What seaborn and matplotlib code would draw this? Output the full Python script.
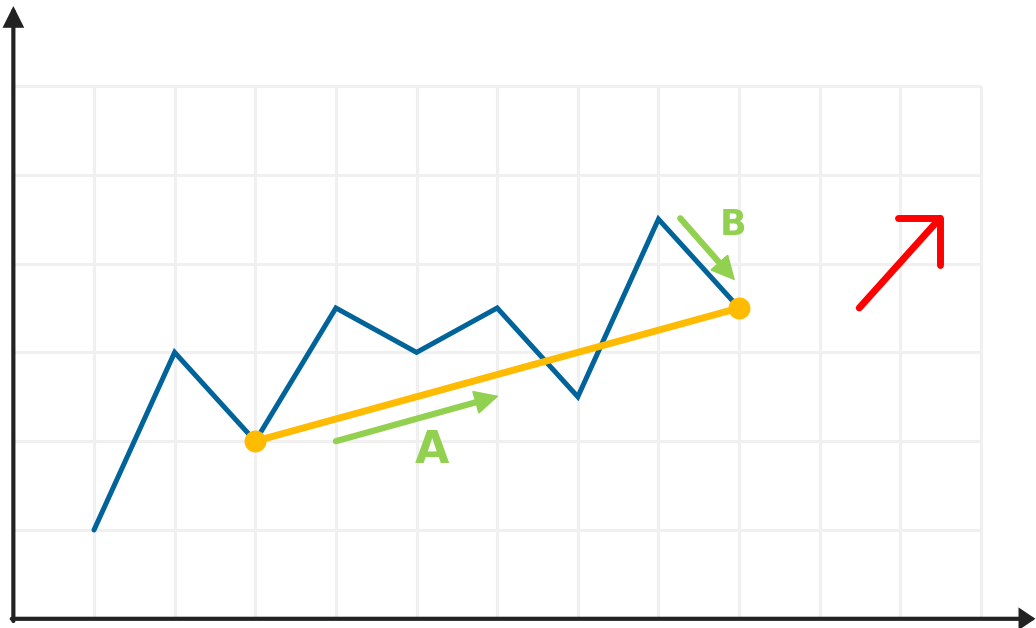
import matplotlib
matplotlib.use("Agg")
import matplotlib.pyplot as plt
import seaborn as sns
import pandas as pd

sns.set_style("white")
plt.rcParams['font.family'] = ['DejaVu Sans Condensed', 'Liberation Sans Narrow', 'DejaVu Sans']

# data (grid units)
x_vals = [1, 2, 3, 4, 5, 6, 7, 8, 9]
y_vals = [1, 3, 2, 3.5, 3, 3.5, 2.5, 4.5, 3.5]
trend_x = [3, 9]
trend_y = [2, 3.5]
grid_x = [1, 2, 3, 4, 5, 6, 7, 8, 9, 10, 11, 12]
grid_y = [1, 2, 3, 4, 5, 6]

# annotation arrows
arrowA_start, arrowA_end = (4.0, 2.0), (6.02, 2.51)
labelA_pos, labelA = (5.19, 1.90), "A"
arrowB_start, arrowB_end = (8.27, 4.51), (8.95, 3.81)
labelB_pos, labelB = (8.93, 4.435), "B"
red_shaft_x, red_shaft_y = [10.49, 11.49], [3.5, 4.51]
red_head_x, red_head_y = [10.97, 11.49, 11.49], [4.51, 4.51, 3.98]

BLUE = "#00639a"
YELLOW = "#ffbb00"
GREEN = "#92d050"
RED = "#ff0000"
GRID = "#f0f0f0"
AXIS = "#222222"

fig = plt.figure(figsize=(10.36, 6.28), dpi=100)
ax = fig.add_axes([0, 0, 1, 1])
ax.set_xlim(-0.1657, 12.682)
ax.set_ylim(-0.1036, 6.968)
ax.set_axis_off()

# grid
ax.vlines(grid_x, 0, 6, colors=GRID, linewidth=2.2, zorder=0)
ax.hlines(grid_y, 0, 12, colors=GRID, linewidth=2.2, zorder=0)

# axes with arrows
ax.annotate("", xy=(0, 6.9), xytext=(0, -0.025), xycoords='data',
            arrowprops=dict(arrowstyle="-|>,head_length=10.8,head_width=5.4",
                            mutation_scale=1, color=AXIS, lw=3, shrinkA=0, shrinkB=0,
                            joinstyle="miter"),
            zorder=5)
ax.annotate("", xy=(12.675, 0), xytext=(-0.02, 0), xycoords='data',
            arrowprops=dict(arrowstyle="-|>,head_length=8,head_width=5.4",
                            mutation_scale=1, color=AXIS, lw=3, shrinkA=0, shrinkB=0,
                            joinstyle="miter"),
            zorder=5)

# blue zigzag
df = pd.DataFrame({"x": x_vals, "y": y_vals})
sns.lineplot(data=df, x="x", y="y", ax=ax, color=BLUE, linewidth=3.6, sort=False,
             solid_capstyle="round", solid_joinstyle="miter", zorder=3)

# yellow trend
tdf = pd.DataFrame({"x": trend_x, "y": trend_y})
sns.lineplot(data=tdf, x="x", y="y", ax=ax, color=YELLOW, linewidth=5, sort=False, zorder=4)
sns.scatterplot(data=tdf, x="x", y="y", ax=ax, color=YELLOW, s=250, linewidth=0, zorder=4)

# green arrows
for s, e in [(arrowA_start, arrowA_end), (arrowB_start, arrowB_end)]:
    ax.plot([s[0], e[0] - 0.12 * (e[0] - s[0])], [s[1], e[1] - 0.12 * (e[1] - s[1])],
            color=GREEN, lw=4.5, solid_capstyle="round", zorder=5)
    ax.annotate("", xy=e, xytext=s, xycoords='data',
                arrowprops=dict(arrowstyle="-|>,head_length=16,head_width=8",
                                mutation_scale=1, color=GREEN, lw=1,
                                shrinkA=0, shrinkB=0, joinstyle="miter"),
                zorder=5)
ax.text(*labelA_pos, labelA, color=GREEN, fontsize=32, fontweight="bold",
        ha="center", va="center", zorder=5)
ax.text(*labelB_pos, labelB, color=GREEN, fontsize=25, fontweight="bold",
        ha="center", va="center", zorder=5)

# red arrow
ax.plot(red_shaft_x, red_shaft_y, color=RED, lw=5, solid_capstyle="round", zorder=5)
ax.plot(red_head_x, red_head_y, color=RED, lw=5, solid_capstyle="round",
        solid_joinstyle="round", zorder=5)

fig.savefig("out.png", dpi=100)
